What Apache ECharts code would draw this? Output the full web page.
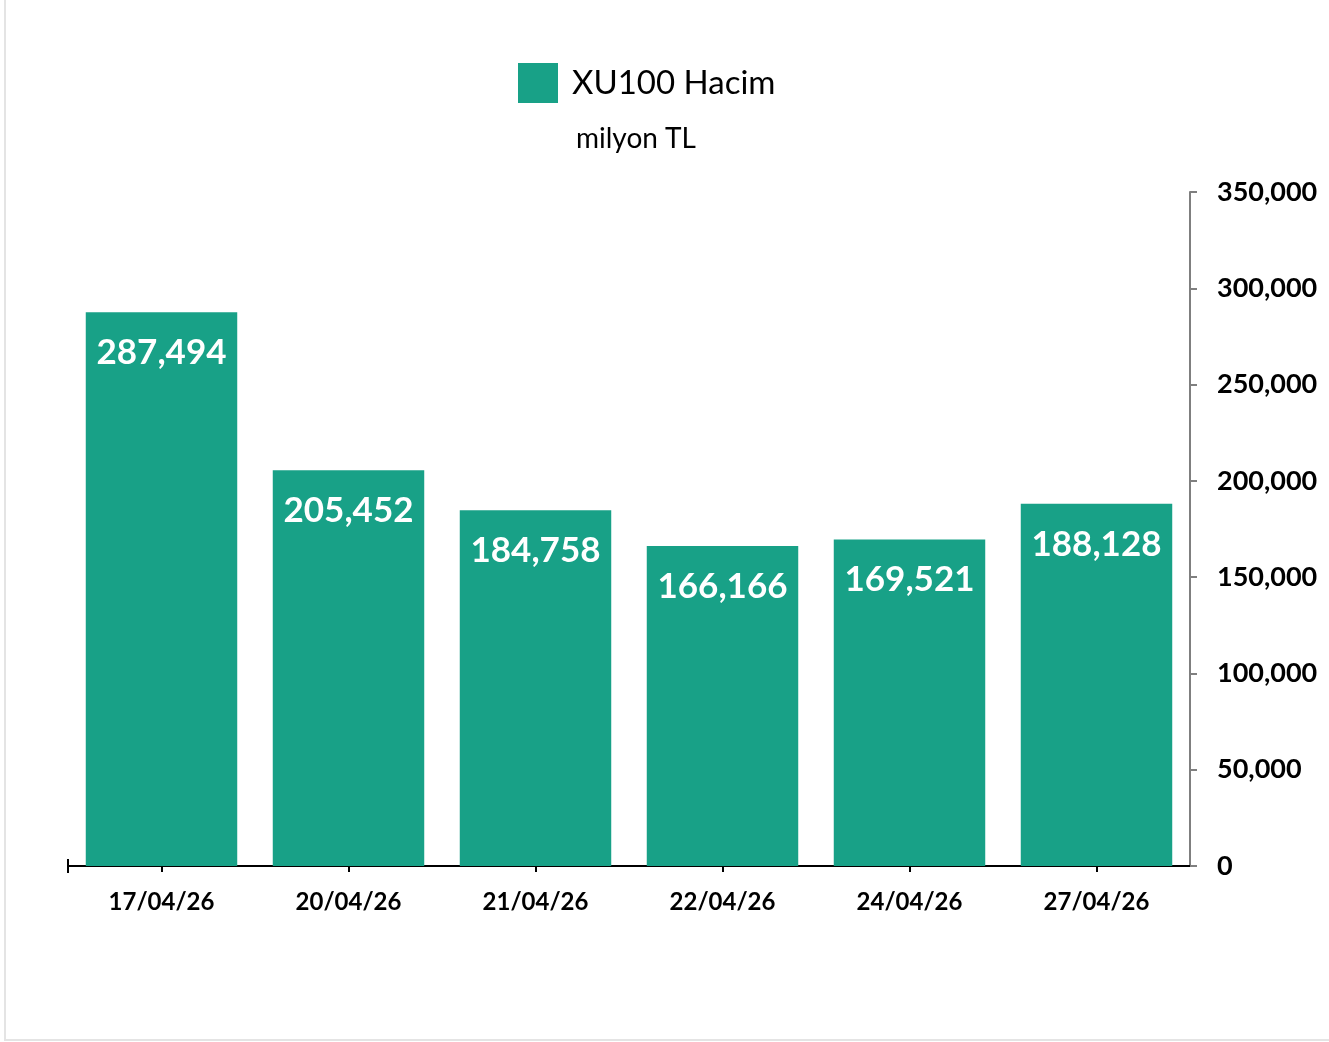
<!DOCTYPE html>
<html>
<head>
<meta charset="utf-8">
<script src="https://cdn.jsdelivr.net/npm/echarts@6/dist/echarts.min.js"></script>
<style>
html,body{margin:0;padding:0;background:#fff;}
#frame{position:absolute;left:4px;top:0;width:1325px;height:1039px;border-left:2px solid #e4e4e4;border-bottom:2px solid #e4e4e4;box-sizing:content-box;}
#chart{position:absolute;left:0;top:0;width:1329px;height:1042px;}
</style>
</head>
<body>
<div id="frame"></div>
<div id="chart"></div>
<script>
const categories = ['17/04/26', '20/04/26', '21/04/26', '22/04/26', '24/04/26', '27/04/26'];
const volumes = [287494, 205452, 184758, 166166, 169521, 188128];
const seriesName = 'XU100 Hacim';
const unitLabel = 'milyon TL';

const FONT = 'Lato';
const barColor = '#18a187';
const fmt = v => Number(v).toLocaleString('en-US');

const chart = echarts.init(document.getElementById('chart'), null, {renderer: 'canvas'});
chart.setOption({
  animation: false,
  textStyle: {fontFamily: FONT},
  title: {
    text: unitLabel,
    left: 571, top: 120,
    textStyle: {fontFamily: FONT, fontSize: 28, fontWeight: 'normal', color: '#000'}
  },
  legend: {
    data: [seriesName],
    left: 513, top: 58,
    icon: 'rect',
    itemWidth: 40, itemHeight: 40,
    textStyle: {fontFamily: FONT, fontSize: 33, color: '#000', padding: [0, 0, 0, 9]}
  },
  grid: {left: 68, right: 139, top: 192, bottom: 176},
  xAxis: [{
    type: 'category',
    data: categories,
    position: 'bottom',
    axisLine: {show: true, lineStyle: {color: '#000', width: 2}},
    axisTick: {show: true, alignWithLabel: true, length: 6, lineStyle: {color: '#000', width: 2}},
    axisLabel: {fontFamily: FONT, fontSize: 24, fontWeight: 'bold', color: '#000', margin: 24}
  }, {
    type: 'category',
    data: categories,
    position: 'bottom',
    offset: 0,
    axisLine: {show: false},
    axisTick: {show: true, inside: true, alignWithLabel: true, length: 7, lineStyle: {color: '#000', width: 2}},
    axisLabel: {show: false},
    splitLine: {show: false}
  }],
  yAxis: {
    type: 'value',
    position: 'right',
    min: 0, max: 350000, interval: 50000,
    splitLine: {show: false},
    axisLine: {show: true, lineStyle: {color: '#7f7f7f', width: 2}},
    axisTick: {show: true, length: 7, lineStyle: {color: '#7f7f7f', width: 2}},
    axisLabel: {
      fontFamily: FONT, fontSize: 27, fontWeight: 'bold', color: '#000',
      align: 'left', margin: 27,
      formatter: v => fmt(v)
    }
  },
  series: [{
    name: seriesName,
    type: 'bar',
    data: volumes,
    barCategoryGap: '19%',
    itemStyle: {color: barColor},
    label: {
      show: true,
      position: 'insideTop',
      distance: 23,
      color: '#fff',
      fontFamily: FONT,
      fontSize: 35,
      fontWeight: 'bold',
      formatter: p => fmt(p.value)
    }
  }],
  graphic: [{
    type: 'line',
    shape: {x1: 68, y1: 859, x2: 68, y2: 873},
    style: {stroke: '#000', lineWidth: 2}
  }]
});
</script>
</body>
</html>
